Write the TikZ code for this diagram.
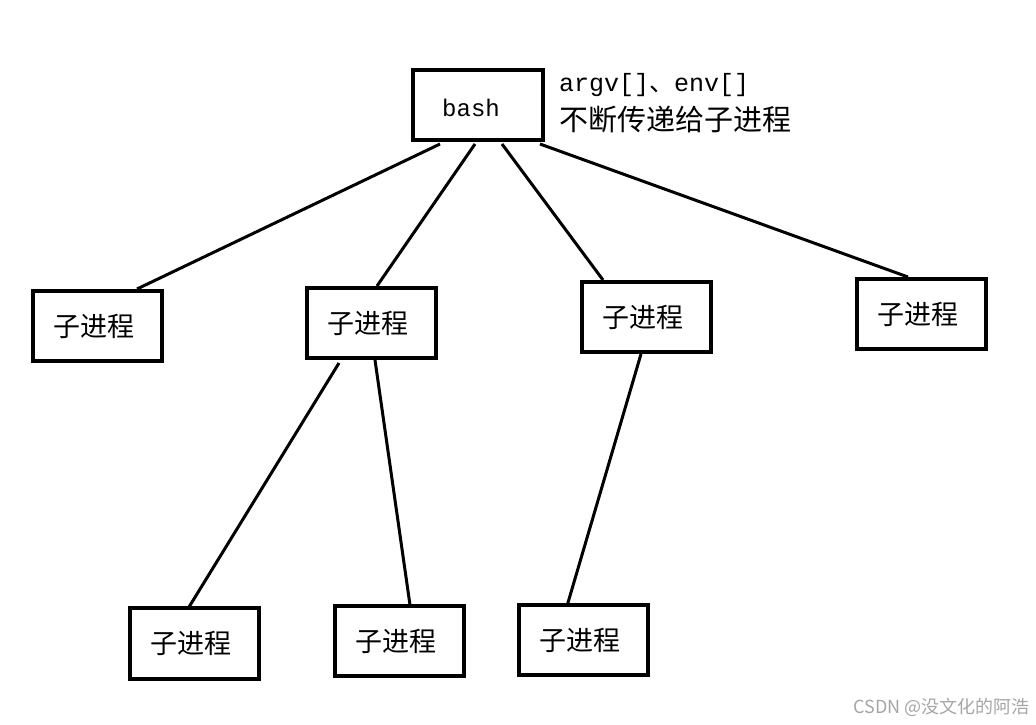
\documentclass[tikz,border=0pt]{standalone}
\usepackage{fontspec}
\newfontfamily\cjk{Noto Sans CJK SC}
\setmonofont{Liberation Mono}
\begin{document}
\begin{tikzpicture}[x=1pt,y=-1pt,
 box/.style={draw,line width=3.5pt,inner sep=0pt},
 ln/.style={line width=3pt},
 lab/.style={font=\cjk\fontsize{27}{27}\selectfont}]
\useasboundingbox (0,0) rectangle (1036,724);
\fill[white] (0,0) rectangle (1036,724);
\newcommand\bx[5]{\draw[box] (#2,#3) rectangle (#4,#5); \node[lab] (#1) at ({(#2+#4)/2-4},{(#3+#5)/2}) {子进程};}
\draw[box] (413,70) rectangle (543,140);
\node[font=\ttfamily\fontsize{24}{24}\selectfont] (bash) at (471,108) {bash};
\bx{a}{33}{291}{162}{361}
\bx{b}{307}{288}{436}{358}
\bx{c}{582}{282}{711}{352}
\bx{d}{857}{279}{986}{349}
\bx{e}{130}{608}{259}{679}
\bx{f}{335}{606}{464}{676}
\bx{g}{519}{605}{648}{675}
\coordinate (b1) at (440,144); \coordinate (a1) at (137,289);
\coordinate (b2) at (475,144); \coordinate (a2) at (377,286);
\coordinate (b3) at (502,144); \coordinate (a3) at (603,280);
\coordinate (b4) at (540,144); \coordinate (a4) at (908,277);
\coordinate (c1) at (339,363); \coordinate (d1) at (189,607);
\coordinate (c2) at (375,360); \coordinate (d2) at (410,605);
\coordinate (c3) at (641,354); \coordinate (d3) at (567,606);
\draw[ln] (b1)--(a1); \draw[ln] (b2)--(a2); \draw[ln] (b3)--(a3); \draw[ln] (b4)--(a4);
\draw[ln] (c1)--(d1); \draw[ln] (c2)--(d2); \draw[ln] (c3)--(d3);
\node[anchor=west,font=\ttfamily\fontsize{25}{25}\selectfont,inner sep=0pt] (n1) at (559,85) {argv[]{\cjk 、}env[]};
\node[anchor=west,font=\cjk\fontsize{29}{29}\selectfont,inner sep=0pt] (n2) at (559,120) {不断传递给子进程};
\node[anchor=east,font=\cjk\fontsize{18}{18}\selectfont,text=gray!70,inner sep=0pt] (wm) at (1030,707) {CSDN @没文化的阿浩};
\end{tikzpicture}
\end{document}
